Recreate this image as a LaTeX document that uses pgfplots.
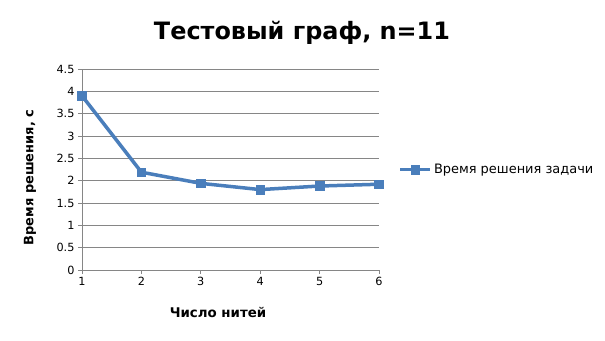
\documentclass[border=0pt]{standalone}
\usepackage{pgfplots}
\pgfplotsset{compat=1.18}
\usepackage{fontspec}
\setmainfont{DejaVu Sans}
\definecolor{ser}{RGB}{74,126,187}
\definecolor{gr}{RGB}{134,134,134}
\begin{document}
\begin{tikzpicture}[x=1bp,y=1bp]
\useasboundingbox (0,0) rectangle (605,340);
\node[font=\bfseries\fontsize{24}{27}\selectfont] at (302,307) {Тестовый граф, n=11};
\begin{axis}[
  at={(82bp,70bp)}, anchor=south west,
  scale only axis, width=297bp, height=201bp,
  xmin=1, xmax=6, ymin=0, ymax=4.5,
  xtick={1,...,6}, ytick={0,0.5,...,4.5},
  yticklabel style={/pgf/number format/fixed,/pgf/number format/precision=1},
  /pgf/number format/assume math mode=true,
  axis lines*=left,
  axis line style={gr,line width=0.8pt},
  every tick/.style={gr,line width=0.8pt},
  tick align=outside, major tick length=4bp,
  ymajorgrids, grid style={gr,line width=0.8pt},
  tick label style={font=\fontsize{11.3}{13}\selectfont},
  xlabel={\bfseries Число нитей},
  ylabel={\bfseries Время решения, с},
  xlabel style={font=\fontsize{13.4}{15}\selectfont,at={(axis description cs:0.458,-0.21)},anchor=center},
  ylabel style={font=\fontsize{13}{15}\selectfont,at={(axis description cs:-0.175,0.46)},anchor=center},
  clip=false,
  legend style={at={(1.065,0.5)},anchor=west,draw=none,fill=none,font=\fontsize{13}{15}\selectfont,inner sep=0pt},
  legend cell align=left,
  legend image code/.code={\draw[#1,mark repeat=2,mark phase=2] plot coordinates {(0bp,0bp) (15bp,0bp) (30bp,0bp)};},
]
\addplot[ser,line width=3.5bp,mark=square*,mark size=4.3bp,mark options={ser,solid,line width=0.5pt}] coordinates {
(1,3.90) (2,2.19) (3,1.94) (4,1.80) (5,1.88) (6,1.92)};
\addlegendentry{Время решения задачи}
\end{axis}
\end{tikzpicture}
\end{document}
